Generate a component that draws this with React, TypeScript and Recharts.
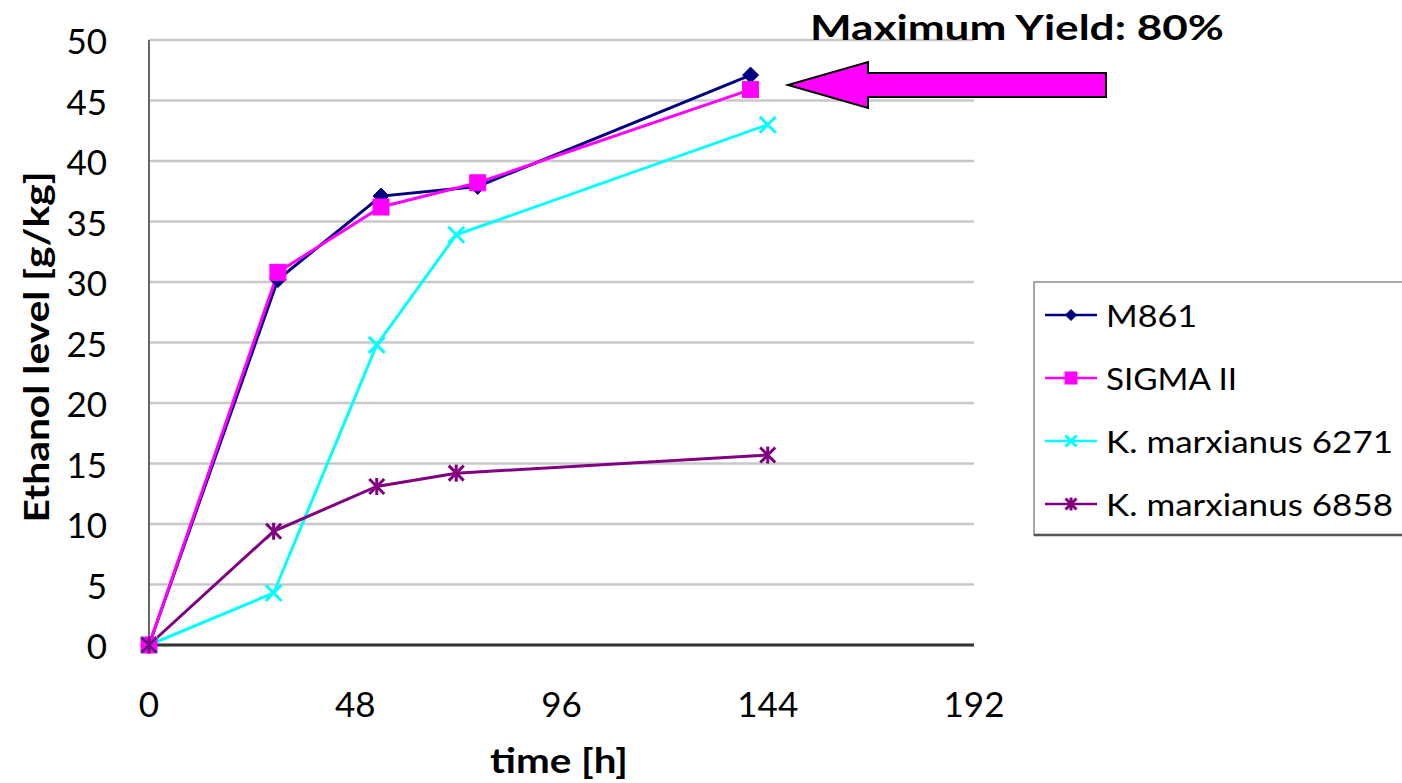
import React from "react";
import { LineChart, Line, XAxis, YAxis, CartesianGrid } from "recharts";

// ---- data ----
const timesMS = [0, 30, 54, 76.5, 140];
const timesK = [0, 29, 53, 71.5, 144];
const m861 = [0, 30.2, 37.1, 37.9, 47.1];
const sigma = [0, 30.8, 36.2, 38.2, 45.9];
const k6271 = [0, 4.3, 24.8, 33.9, 43.0];
const k6858 = [0, 9.4, 13.1, 14.2, 15.7];
const xTicks = [0, 48, 96, 144, 192];
const yTicks = [0, 5, 10, 15, 20, 25, 30, 35, 40, 45, 50];
const seriesNames = ["M861", "SIGMA II", "K. marxianus 6271", "K. marxianus 6858"];
const seriesColors = ["#000080", "#FF00FF", "#00FFFF", "#800080"];
const seriesMarkers = ["diamond", "square", "x", "star"];
const seriesTimes = [timesMS, timesMS, timesK, timesK];
const seriesValues = [m861, sigma, k6271, k6858];
const legendWidths = [91, 131, 287, 287];

const FONT = "Lato, 'Open Sans', sans-serif";

function toData(ts: number[], vs: number[]) {
  return ts.map((t, i) => ({ t, v: vs[i] }));
}

function marker(kind: string, cx: number, cy: number, color: string, s: number, key?: any) {
  if (cx == null || cy == null) return <g key={key} />;
  if (kind === "diamond") {
    return (
      <polygon key={key} points={`${cx},${cy - s} ${cx + s},${cy} ${cx},${cy + s} ${cx - s},${cy}`} fill={color} stroke={color} strokeWidth={1} />
    );
  }
  if (kind === "square") {
    return <rect key={key} x={cx - s} y={cy - s} width={2 * s} height={2 * s} fill={color} stroke={color} strokeWidth={1} />;
  }
  if (kind === "x") {
    return (
      <g key={key} stroke={color} strokeWidth={3}>
        <line x1={cx - s} y1={cy - s} x2={cx + s} y2={cy + s} />
        <line x1={cx - s} y1={cy + s} x2={cx + s} y2={cy - s} />
      </g>
    );
  }
  return (
    <g key={key} stroke={color} strokeWidth={3}>
      <line x1={cx - s} y1={cy - s} x2={cx + s} y2={cy + s} />
      <line x1={cx - s} y1={cy + s} x2={cx + s} y2={cy - s} />
      <line x1={cx} y1={cy - s - 1} x2={cx} y2={cy + s + 1} />
    </g>
  );
}

const markerSizes = [8, 8, 8, 7.5];

const YTick = (props: any) => {
  const { y, payload } = props;
  return (
    <text x={107} y={y} textAnchor="end" dominantBaseline="central" fontFamily={FONT} fontSize={35} fill="#000">
      {payload.value}
    </text>
  );
};

const XTick = (props: any) => {
  const { x, payload } = props;
  return (
    <text x={x} y={703} textAnchor="middle" dominantBaseline="central" fontFamily={FONT} fontSize={35} fill="#000">
      {payload.value}
    </text>
  );
};

const YLabel = () => (
  <text
    transform="translate(49,347) rotate(-90)"
    textAnchor="middle"
    fontFamily={FONT}
    fontWeight={700}
    fontSize={35}
    textLength={351}
    lengthAdjust="spacingAndGlyphs"
    fill="#000"
  >
    Ethanol level [g/kg]
  </text>
);

const XLabel = () => (
  <text
    x={490}
    y={773}
    fontFamily={FONT}
    fontWeight={700}
    fontSize={35}
    textLength={138}
    lengthAdjust="spacingAndGlyphs"
    fill="#000"
  >
    time [h]
  </text>
);

export default function App() {
  const legendRows = [315, 378, 441, 504];
  return (
    <div style={{ position: "absolute", left: 0, top: 0, width: 1402, height: 783, background: "#fff", overflow: "hidden" }}>
      <LineChart width={1402} height={783} margin={{ top: 40, right: 428, bottom: 0, left: 0 }}>
        <CartesianGrid horizontal={true} vertical={false} stroke="#c8c8c8" strokeWidth={2.5} />
        <XAxis
          dataKey="t"
          type="number"
          domain={[0, 192]}
          ticks={xTicks}
          height={138}
          tick={<XTick />}
          tickLine={false}
          axisLine={{ stroke: "#333", strokeWidth: 3 }}
          allowDuplicatedCategory={false}
          label={{ content: () => <XLabel /> }}
        />
        <YAxis
          type="number"
          domain={[0, 50]}
          ticks={yTicks}
          width={149}
          tick={<YTick />}
          tickLine={false}
          axisLine={{ stroke: "#666", strokeWidth: 2 }}
          label={{ content: () => <YLabel /> }}
        />
        {seriesNames.map((name, si) => (
          <Line
            key={name}
            name={name}
            data={toData(seriesTimes[si], seriesValues[si])}
            dataKey="v"
            stroke={seriesColors[si]}
            strokeWidth={3}
            isAnimationActive={false}
            dot={(p: any) => marker(seriesMarkers[si], p.cx, p.cy, seriesColors[si], markerSizes[si], p.key ?? `${si}-${p.index}`)}
            activeDot={false}
          />
        ))}
      </LineChart>
      <svg width={1402} height={783} style={{ position: "absolute", left: 0, top: 0, pointerEvents: "none" }}>
        <text x={810} y={40} fontFamily={FONT} fontWeight={700} fontSize={35} textLength={414} lengthAdjust="spacingAndGlyphs" fill="#000">
          Maximum Yield: 80%
        </text>
        <polygon
          points="788,85 868,62 868,73 1106,73 1106,97 868,97 868,108"
          fill="#FF00FF"
          stroke="#000"
          strokeWidth={2}
          strokeLinejoin="miter"
        />
        <rect x={1034} y={282} width={400} height={253} fill="#fff" stroke="#8c8c8c" strokeWidth={1.5} />
        <line x1={1034} y1={535} x2={1402} y2={535} stroke="#555" strokeWidth={2.5} />
        {seriesNames.map((name, si) => (
          <g key={name}>
            <line x1={1045} y1={legendRows[si]} x2={1097} y2={legendRows[si]} stroke={seriesColors[si]} strokeWidth={2.5} />
            {marker(seriesMarkers[si], 1071, legendRows[si], seriesColors[si], si === 1 ? 6 : 5.5)}
            <text
              x={1106}
              y={legendRows[si]}
              dominantBaseline="central"
              fontFamily={FONT}
              fontSize={31}
              textLength={legendWidths[si]}
              lengthAdjust="spacingAndGlyphs"
              fill="#000"
            >
              {name}
            </text>
          </g>
        ))}
      </svg>
    </div>
  );
}
